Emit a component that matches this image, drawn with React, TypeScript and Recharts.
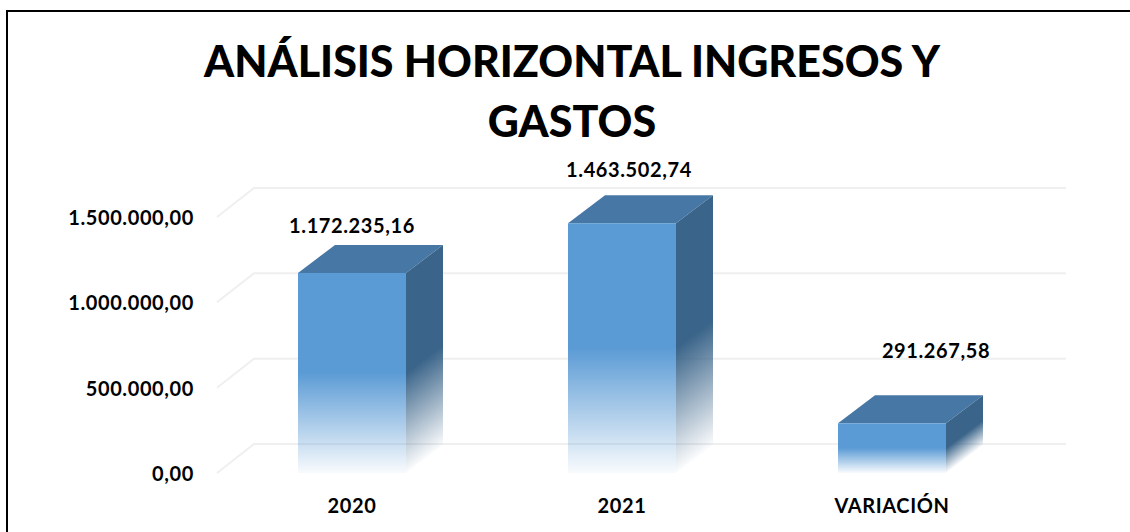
import React from 'react';
import { BarChart, Bar, XAxis, YAxis, CartesianGrid, LabelList } from 'recharts';

const categories = ['2020', '2021', 'VARIACIÓN'];
const values = [1172235.16, 1463502.74, 291267.58];
const valueLabels = ['1.172.235,16', '1.463.502,74', '291.267,58'];
const yTicks = [0, 500000, 1000000, 1500000];
const yTickLabels = ['0,00', '500.000,00', '1.000.000,00', '1.500.000,00'];

// label nudges, the original labels were moved by hand
const labelDx = [0, 7, 44];
const labelDy = [-12, -18, -37];

const DEPTH_X = 37;
const DEPTH_Y = 28;
const GRID_END = 1066;

const textStyle = { fill: '#000', fontFamily: 'Lato', fontWeight: 700, fontSize: 20, letterSpacing: 0.6 };

const chartData = categories.map((name, i) => ({ name, value: values[i] }));

const Bar3D = (props: any) => {
  const { x, y, width, height, index } = props;
  const r = x + width;
  const b = y + height;
  const mid = y + height / 2;
  // side fade runs parallel to the slanted bottom edge
  const k = ((height / 2) * DEPTH_X) / (DEPTH_Y * DEPTH_Y + DEPTH_X * DEPTH_X);
  const sideId = `side-${index}`;
  return (
    <g>
      <defs>
        <linearGradient
          id={sideId}
          gradientUnits="userSpaceOnUse"
          x1={r}
          y1={mid}
          x2={r + DEPTH_Y * k}
          y2={mid + DEPTH_X * k}
        >
          <stop offset="0" stopColor="#3a6489" />
          <stop offset="1" stopColor="#3a6489" stopOpacity={0.02} />
        </linearGradient>
      </defs>
      <path
        d={`M${x},${y} L${x + DEPTH_X},${y - DEPTH_Y} L${r + DEPTH_X},${y - DEPTH_Y} L${r},${y} Z`}
        fill="#4677a5"
      />
      <path
        d={`M${r},${y} L${r + DEPTH_X},${y - DEPTH_Y} L${r + DEPTH_X},${b - DEPTH_Y} L${r},${b} Z`}
        fill={`url(#${sideId})`}
      />
      <rect x={x} y={y} width={width} height={height} fill="url(#frontFade)" />
    </g>
  );
};

const ValueLabel = (props: any) => {
  const { x, y, width, index } = props;
  return (
    <text
      x={x + width / 2 + labelDx[index]}
      y={y - DEPTH_Y + labelDy[index]}
      textAnchor="middle"
      style={textStyle}
    >
      {valueLabels[index]}
    </text>
  );
};

const YTick = (props: any) => {
  const { x, y, index } = props;
  return (
    <text x={x} y={y + 8} textAnchor="end" style={textStyle}>
      {yTickLabels[index]}
    </text>
  );
};

const gridLine = (props: any) => {
  const { x1, y1 } = props;
  return (
    <path
      key={y1}
      d={`M${x1},${y1} L${x1 + DEPTH_X},${y1 - DEPTH_Y - 1} L${GRID_END},${y1 - DEPTH_Y - 1}`}
      fill="none"
      stroke="#efefef"
      strokeWidth={2}
    />
  );
};

export default function App() {
  return (
    <div style={{ position: 'absolute', left: 0, top: 0, width: 1130, height: 532, background: '#fff', overflow: 'hidden' }}>
      <div
        style={{
          position: 'absolute', left: 6, top: 10, width: 1140, height: 540,
          border: '2px solid #000', boxSizing: 'border-box',
        }}
      />
      <div
        style={{
          position: 'absolute', left: 172, top: 31, width: 800, textAlign: 'center',
          fontFamily: 'Lato', fontWeight: 900, fontSize: 43, lineHeight: '60px', color: '#000',
        }}
      >
        ANÁLISIS HORIZONTAL INGRESOS Y<br />GASTOS
      </div>
      <div style={{ position: 'absolute', left: 0, top: 0 }}>
        <BarChart
          width={1130}
          height={532}
          data={chartData}
          margin={{ top: 217, right: 103, bottom: 29, left: 0 }}
          barCategoryGap="30%"
        >
          <defs>
            <linearGradient id="frontFade" x1="0" y1="0" x2="0" y2="1">
              <stop offset="0.5" stopColor="#5b9bd5" />
              <stop offset="1" stopColor="#5b9bd5" stopOpacity={0.04} />
            </linearGradient>
          </defs>
          <CartesianGrid vertical={false} horizontal={gridLine} />
          <XAxis
            dataKey="name"
            axisLine={false}
            tickLine={false}
            interval={0}
            height={30}
            tick={textStyle}
            tickMargin={20}
          />
          <YAxis
            width={217}
            domain={[0, 1500000]}
            ticks={yTicks}
            axisLine={false}
            tickLine={false}
            tickMargin={17}
            tick={YTick}
          />
          <Bar dataKey="value" shape={Bar3D} isAnimationActive={false}>
            <LabelList dataKey="value" content={ValueLabel} />
          </Bar>
        </BarChart>
      </div>
    </div>
  );
}
